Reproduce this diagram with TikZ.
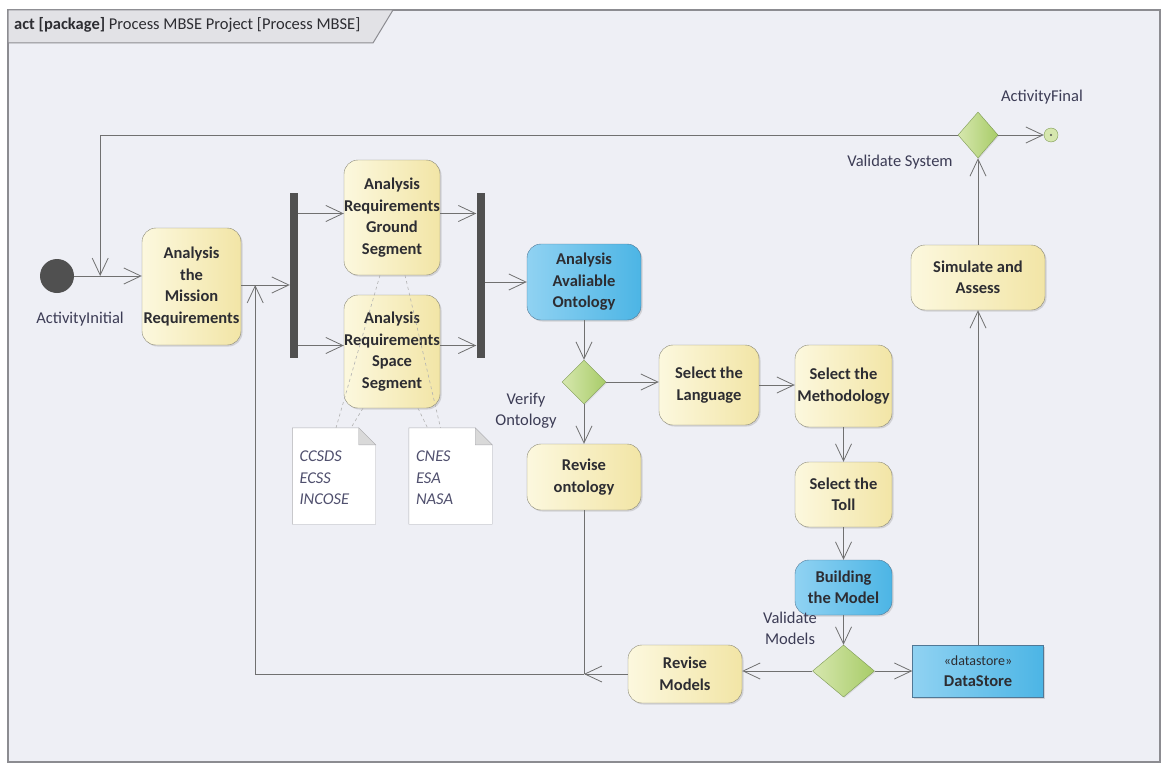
\documentclass[tikz,border=0pt]{standalone}
\usepackage{fontspec}
\setmainfont{Carlito}
\usetikzlibrary{arrows.meta,shapes.geometric,shadows,calc}
\definecolor{framebg}{RGB}{238,239,245}
\definecolor{framelines}{RGB}{140,140,145}
\definecolor{tabfill}{RGB}{226,226,230}
\definecolor{actleft}{RGB}{252,248,222}
\definecolor{actright}{RGB}{242,229,166}
\definecolor{actline}{RGB}{138,136,118}
\definecolor{blueleft}{RGB}{144,210,242}
\definecolor{blueright}{RGB}{76,181,229}
\definecolor{blueline}{RGB}{80,120,150}
\definecolor{decleft}{RGB}{214,231,174}
\definecolor{decright}{RGB}{168,204,104}
\definecolor{decline}{RGB}{126,155,85}
\definecolor{bardark}{RGB}{80,80,80}
\definecolor{flowgray}{RGB}{112,112,112}
\definecolor{boxtext}{RGB}{45,45,50}
\definecolor{labeltext}{RGB}{60,60,85}
\definecolor{notetext}{RGB}{80,80,110}

\newcommand\docnote[4]{
        \node [name=#1, minimum width=83pt, minimum height=96pt, inner sep=0] at (#2,#3) {};
        \draw [framelines!70, fill=white] (#1.north west) -- ($(#1.north east)+(-17,0)$)
          -- ($(#1.north east)+(0,17)$) -- (#1.south east) -- (#1.south west) -- cycle;
        \draw [framelines!70, fill=black!15] ($(#1.north east)+(-17,0)$) -- ($(#1.north east)+(-17,17)$)
          -- ($(#1.north east)+(0,17)$) -- cycle;
        \node [anchor=north west, align=left, font=\itshape\fontsize{16.5}{21.5}\selectfont,
          text=notetext, inner sep=0] at ($(#1.north west)+(7,23)$) {#4};
}

\begin{document}
\begin{tikzpicture}[x=1pt, y=-1pt,
        action/.style={draw=actline, rounded corners=14pt, left color=actleft, right color=actright,
          align=center, font=\bfseries\fontsize{16.5}{21.5}\selectfont, text=boxtext, inner sep=0pt,
          drop shadow={shadow xshift=1.5pt, shadow yshift=-1.5pt, fill=black!35, opacity=.4}},
        bluebox/.style={action, left color=blueleft, right color=blueright, draw=blueline},
        decision/.style={diamond, draw=decline, left color=decleft, right color=decright, inner sep=0,
          drop shadow={shadow xshift=1pt, shadow yshift=-1pt, fill=black!35, opacity=.3}},
        bar/.style={fill=bardark, minimum width=8pt, minimum height=165pt, inner sep=0},
        flow/.style={draw=flowgray, line width=.8pt, -{Straight Barb[length=17pt, width=16pt]}},
        plainflow/.style={draw=flowgray, line width=.8pt},
        trace/.style={draw=black!30, dashed, line width=.6pt},
        tag/.style={font=\fontsize{16.5}{21}\selectfont, text=labeltext, align=center, inner sep=0}
        ]
        \useasboundingbox (0,0) rectangle (1169,765);
        % frame and tab
        \fill [white] (0,0) rectangle (1169,765);
        \draw [framelines, line width=1.5pt, fill=framebg] (8,10) rectangle (1160,762);
        \draw [framelines, line width=1pt, fill=tabfill] (8,10) -- (393,10) -- (373,43) -- (8,43) -- cycle;
        \node [anchor=west, font=\fontsize{16.5}{20}\selectfont, text=boxtext, inner sep=0] (title) at (14,25)
          {\textbf{act [package]} Process MBSE Project [Process MBSE]};

        % actions
        \node [circle, fill=bardark, minimum size=34pt, inner sep=0] (initial) at (57,276) {};
        \node [action, minimum width=99pt, minimum height=117pt] (mission) at (191.5,286.5)
          {Analysis\\the\\Mission\\Requirements};
        \node [bar] (fork) at (294,275.5) {};
        \node [action, minimum width=96pt, minimum height=115pt] (ground) at (392,217.5)
          {Analysis\\Requirements\\Ground\\Segment};
        \node [action, minimum width=96pt, minimum height=113pt] (space) at (392,351.5)
          {Analysis\\Requirements\\Space\\Segment};
        \node [bar] (join) at (480.5,275.5) {};
        \node [bluebox, minimum width=114pt, minimum height=76pt] (ontology) at (584,282)
          {Analysis\\Avaliable\\Ontology};
        \node [decision, minimum width=44pt, minimum height=44pt] (verify) at (584,382) {};
        \node [action, minimum width=114pt, minimum height=66pt] (reviseont) at (584,477)
          {Revise\\ontology};
        \node [action, minimum width=100pt, minimum height=80pt] (language) at (709,385)
          {Select the\\Language};
        \node [action, minimum width=97pt, minimum height=82pt] (method) at (843.5,386)
          {Select the\\Methodology};
        \node [action, minimum width=97pt, minimum height=65pt] (toll) at (843.5,494.5)
          {Select the\\Toll};
        \node [bluebox, minimum width=97pt, minimum height=55pt] (building) at (843.5,587.5)
          {Building\\the Model};
        \node [decision, minimum width=62pt, minimum height=52pt] (validate) at (843.5,671) {};
        \node [action, minimum width=114pt, minimum height=58pt] (revisemod) at (685,674)
          {Revise\\Models};
        \node [bluebox, rounded corners=0pt, minimum width=131pt, minimum height=52pt,
          font=\fontsize{16.5}{21.5}\selectfont] (datastore) at (978,671)
          {{\fontsize{14}{21.5}\selectfont«datastore»}\\\textbf{DataStore}};
        \node [action, minimum width=134pt, minimum height=65pt] (simulate) at (978,277.5)
          {Simulate and\\Assess};
        \node [decision, minimum width=40pt, minimum height=46pt] (validsys) at (978,135) {};
        \node [circle, draw=decline, fill=decleft, minimum size=14pt, inner sep=0] (final) at (1051,135) {};
        \fill [bardark] (final.center) circle (1.2pt);

        % labels
        \node [tag] (initiallabel) at (80,319) {ActivityInitial};
        \node [tag] (verifylabel) at (526,411) {Verify\\Ontology};
        \node [tag] (validatelabel) at (790,628) {Validate\\Models};
        \node [tag] (validsyslabel) at (900,162) {Validate System};
        \node [tag] (finallabel) at (1042,97) {ActivityFinal};

        % notes
        \docnote{agencies}{334}{476}{CCSDS\\ECSS\\INCOSE}
        \docnote{standards}{450.5}{476}{CNES\\ESA\\NASA}
        \draw [trace] ($(ground.south)+(-12,0)$) -- ($(agencies.north)+(2,0)$);
        \draw [trace] ($(space.south)+(-29,0)$) -- ($(agencies.north)+(17,0)$);
        \draw [trace] ($(ground.south)+(13,0)$) -- ($(standards.north)+(-10,0)$);
        \draw [trace] ($(space.south)+(26,0)$) -- ($(standards.north)+(-23,0)$);

        % control flow
        \coordinate (loopin) at ($(initial.east)+(26,0)$);
        \coordinate (backin) at ($(mission.east)+(14,-1.5)$);
        \coordinate (backjoin) at (reviseont.south |- revisemod.west);
        \draw [flow] (initial.east) -- (initial.east -| mission.west);
        \draw [flow] (validsys.west) -| (loopin);
        \draw [flow] ($(mission.east)+(0,-1.5)$) -- ($(mission.east -| fork.west)+(0,-1.5)$);
        \draw [flow] ($(fork.east |- ground.west)+(0,-4)$) -- ($(ground.west)+(0,-4)$);
        \draw [flow] ($(fork.east |- space.west)+(0,-6)$) -- ($(space.west)+(0,-6)$);
        \draw [flow] ($(ground.east)+(0,-4)$) -- ($(ground.east -| join.west)+(0,-4)$);
        \draw [flow] ($(space.east)+(0,-6)$) -- ($(space.east -| join.west)+(0,-6)$);
        \draw [flow] (join.east |- ontology.west) -- (ontology.west);
        \draw [flow] (ontology.south) -- (verify.north);
        \draw [flow] (verify.east) -- (verify.east -| language.west);
        \draw [flow] (verify.south) -- (reviseont.north);
        \draw [flow] (language.east) -- (language.east -| method.west);
        \draw [flow] (method.south) -- (toll.north);
        \draw [flow] (toll.south) -- (building.north);
        \draw [flow] (building.south) -- (validate.north);
        \draw [flow] (validate.west) -- (validate.west -| revisemod.east);
        \draw [flow] (validate.east) -- (validate.east -| datastore.west);
        \draw [flow] (datastore.north) -- (simulate.south);
        \draw [flow] (simulate.north) -- (validsys.south);
        \draw [flow] (validsys.east) -- (final.west);
        \draw [plainflow] (reviseont.south) -- (backjoin);
        \draw [flow] (revisemod.west |- backjoin) -- (backjoin);
        \draw [flow] (backjoin) -| (backin);
      \end{tikzpicture}
\end{document}
